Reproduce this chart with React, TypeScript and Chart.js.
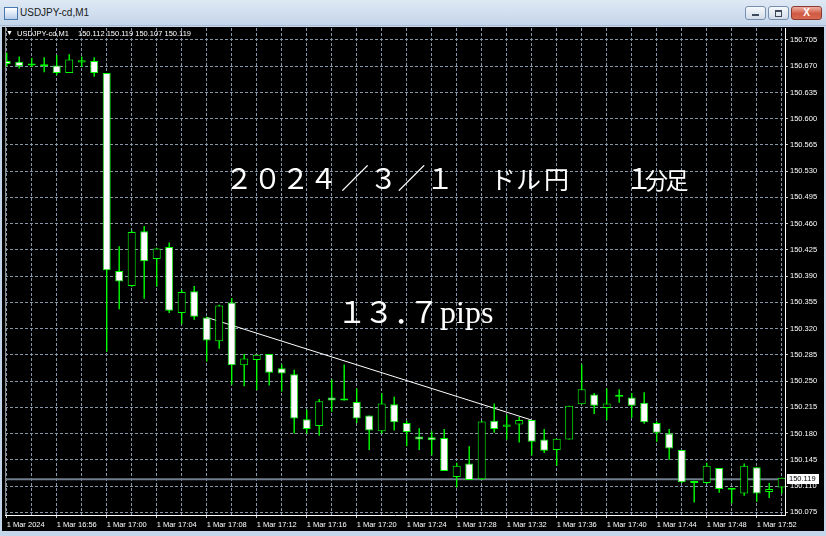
import React, { useEffect, useRef } from 'react';
import { Chart, registerables } from 'chart.js';

Chart.register(...registerables);

// ---------------- data ----------------
const windowTitle = 'USDJPY-cd,M1';

// one-minute bars, 1 Mar 2024 16:52 .. 17:54
const opens = [
  150.677, 150.676, 150.671, 150.670, 150.671, 150.661, 150.675, 150.677, 150.661, 150.397,
  150.377, 150.450, 150.413, 150.429, 150.341, 150.370, 150.335, 150.303, 150.355, 150.271,
  150.278, 150.286, 150.267, 150.259, 150.199, 150.190, 150.228, 150.224, 150.222, 150.204,
  150.183, 150.219, 150.194, 150.176, 150.175, 150.174, 150.122, 150.140, 150.119, 150.197,
  150.189, 150.192, 150.198, 150.172, 150.158, 150.172, 150.219, 150.232, 150.214, 150.229,
  150.228, 150.221, 150.194, 150.180, 150.158, 150.114, 150.114, 150.134, 150.105, 150.100,
  150.135, 150.102, 150.108,
];
const highs = [
  150.688, 150.683, 150.681, 150.682, 150.685, 150.686, 150.683, 150.682, 150.661, 150.430,
  150.451, 150.457, 150.428, 150.435, 150.372, 150.377, 150.336, 150.352, 150.361, 150.286,
  150.285, 150.286, 150.272, 150.265, 150.212, 150.226, 150.252, 150.272, 150.240, 150.204,
  150.234, 150.229, 150.197, 150.187, 150.183, 150.186, 150.141, 150.163, 150.197, 150.220,
  150.205, 150.202, 150.198, 150.186, 150.173, 150.217, 150.272, 150.234, 150.240, 150.239,
  150.234, 150.235, 150.196, 150.186, 150.158, 150.117, 150.141, 150.134, 150.106, 150.140,
  150.135, 150.114, 150.121,
];
const lows = [
  150.670, 150.667, 150.669, 150.662, 150.658, 150.661, 150.669, 150.656, 150.289, 150.346,
  150.376, 150.360, 150.376, 150.341, 150.326, 150.332, 150.276, 150.293, 150.245, 150.243,
  150.238, 150.244, 150.236, 150.180, 150.180, 150.177, 150.209, 150.224, 150.194, 150.158,
  150.180, 150.184, 150.163, 150.158, 150.151, 150.130, 150.108, 150.118, 150.118, 150.181,
  150.172, 150.168, 150.151, 150.154, 150.137, 150.172, 150.219, 150.206, 150.198, 150.221,
  150.201, 150.193, 150.169, 150.145, 150.114, 150.088, 150.113, 150.101, 150.087, 150.097,
  150.089, 150.094, 150.100,
];
const closes = [
  150.673, 150.670, 150.671, 150.670, 150.661, 150.679, 150.678, 150.661, 150.398, 150.383,
  150.449, 150.410, 150.427, 150.344, 150.369, 150.336, 150.304, 150.351, 150.271, 150.280,
  150.285, 150.261, 150.260, 150.200, 150.186, 150.223, 150.224, 150.224, 150.200, 150.184,
  150.220, 150.195, 150.182, 150.172, 150.171, 150.130, 150.137, 150.118, 150.196, 150.186,
  150.192, 150.198, 150.169, 150.157, 150.173, 150.217, 150.239, 150.217, 150.220, 150.229,
  150.217, 150.195, 150.181, 150.160, 150.115, 150.114, 150.137, 150.106, 150.105, 150.137,
  150.100, 150.106, 150.121,
];

// a label every 4 bars (bar 0, 4, 8, ...)
const xTickLabels = [
  '1 Mar 2024', '1 Mar 16:56', '1 Mar 17:00', '1 Mar 17:04', '1 Mar 17:08', '1 Mar 17:12',
  '1 Mar 17:16', '1 Mar 17:20', '1 Mar 17:24', '1 Mar 17:28', '1 Mar 17:32', '1 Mar 17:36',
  '1 Mar 17:40', '1 Mar 17:44', '1 Mar 17:48', '1 Mar 17:52',
];
const yTickValues = [
  150.075, 150.110, 150.145, 150.180, 150.215, 150.250, 150.285, 150.320, 150.355, 150.390,
  150.425, 150.460, 150.495, 150.530, 150.565, 150.600, 150.635, 150.670, 150.705,
];

const lastQuote = [150.112, 150.119, 150.107, 150.119]; // O H L C
const bidPrice = 150.119;
const trendIndex = [16, 42];
const trendValues = [150.335, 150.198];

const titleText = '２０２４／３／１　ドル円　１分足';
const pipsText = '１３．７pips';

// ---------------- layout ----------------
const X_MIN = -0.136;
const X_MAX = 62.264;
const Y_MIN = 150.0714;
const Y_MAX = 150.721;
const OX = 2; // canvas offset in page
const OY = 27;
const CW = 822;
const CH = 504;

// glyph centres (page px) and sizes for the big annotation (spaces skipped)
const titleCenters = [239, 267.5, 295.5, 323.5, 355, 383.5, 411.5, 440, 503, 528.5, 556.5, 639, 656.5, 677];
const titleSizes = [28, 28, 28, 28, 28, 28, 28, 28, 25, 25, 25, 28, 23, 23];
const pipsCenters = [352, 379, 409, 424];

const LIME = '#00ff00';
const GRID = '#8796a8';
const TICKFONT = '"Liberation Sans", "DejaVu Sans", Arial, sans-serif';
const TICKSIZE = 7.5;

const overlay = {
  id: 'overlay',
  afterDraw(chart: any) {
    const ctx = chart.ctx as CanvasRenderingContext2D;
    const area = chart.chartArea;
    const yScale = chart.scales.y;
    ctx.save();

    // left edge of plot
    ctx.strokeStyle = '#8c8c8c';
    ctx.lineWidth = 1;
    ctx.beginPath();
    ctx.moveTo(Math.round(area.left) + 0.5, 0);
    ctx.lineTo(Math.round(area.left) + 0.5, area.bottom);
    ctx.stroke();

    // info line
    ctx.fillStyle = '#ffffff';
    ctx.textBaseline = 'middle';
    ctx.textAlign = 'left';
    ctx.font = `7px ${TICKFONT}`;
    const iy = 33.5 - OY;
    ctx.fillText('▼', 6 - OX, iy);
    ctx.font = `${TICKSIZE}px ${TICKFONT}`;
    ctx.fillText(windowTitle, 17 - OX, iy);
    ctx.fillText(lastQuote.map((v) => v.toFixed(3)).join(' '), 78 - OX, iy);

    // big title
    const glyphs = Array.from(titleText).filter((c) => c !== '　');
    ctx.textAlign = 'center';
    ctx.textBaseline = 'alphabetic';
    glyphs.forEach((g, i) => {
      ctx.font = `${titleSizes[i]}px "Noto Sans CJK JP", sans-serif`;
      ctx.fillText(g, titleCenters[i] - OX, 188.5 - OY);
    });

    // pips text
    const pg = Array.from(pipsText);
    ctx.font = '30px "Noto Sans CJK JP", sans-serif';
    for (let i = 0; i < 4; i++) {
      ctx.fillText(pg[i], pipsCenters[i] - OX, 323 - OY);
    }
    ctx.textAlign = 'left';
    ctx.font = '32px "Liberation Serif", "DejaVu Serif", serif';
    ctx.fillText(pg.slice(4).join(''), 440 - OX, 323 - OY);

    // bid price label
    const by = yScale.getPixelForValue(bidPrice);
    ctx.fillStyle = '#ffffff';
    ctx.fillRect(787 - OX, Math.round(by) - 5, 32, 10);
    ctx.fillStyle = '#000000';
    ctx.font = `${TICKSIZE}px ${TICKFONT}`;
    ctx.textBaseline = 'middle';
    ctx.fillText(bidPrice.toFixed(3), 789 - OX, by);

    ctx.restore();
  },
};

export default function App() {
  const canvasRef = useRef<HTMLCanvasElement | null>(null);

  useEffect(() => {
    document.body.style.margin = '0';
    const canvas = canvasRef.current;
    if (!canvas) return;

    const bodyColors = opens.map((o, i) =>
      closes[i] < o ? '#ffffff' : closes[i] > o ? '#000000' : LIME
    );

    const config: any = {
      type: 'bar',
      data: {
        datasets: [
          {
            type: 'bar',
            label: 'body',
            data: opens.map((o, i) => ({ x: i, y: [o, closes[i]] })),
            backgroundColor: bodyColors,
            borderColor: LIME,
            borderWidth: 1,
            borderSkipped: false,
            barThickness: 8,
            minBarLength: 2,
            grouped: false,
            inflateAmount: 0,
          },
          {
            type: 'bar',
            label: 'wick',
            data: highs.map((h, i) => ({ x: i, y: [lows[i], h] })),
            backgroundColor: LIME,
            borderWidth: 0,
            barThickness: 1.4,
            grouped: false,
            inflateAmount: 0,
          },
          {
            type: 'line',
            label: 'trend',
            data: trendIndex.map((x, i) => ({ x, y: trendValues[i] })),
            borderColor: '#ffffff',
            borderWidth: 1,
            pointRadius: 0,
            tension: 0,
          },
          {
            type: 'line',
            label: 'bid',
            data: [
              { x: X_MIN, y: bidPrice },
              { x: X_MAX, y: bidPrice },
            ],
            borderColor: '#6f7d8c',
            borderWidth: 2,
            pointRadius: 0,
          },
        ],
      },
      options: {
        responsive: false,
        animation: false,
        events: [],
        layout: { padding: { left: 3, top: 1, right: 0, bottom: 0 }, autoPadding: false },
        plugins: { legend: { display: false }, tooltip: { enabled: false } },
        scales: {
          x: {
            type: 'linear',
            min: X_MIN,
            max: X_MAX,
            offset: false,
            grid: {
              offset: false,
              color: GRID,
              lineWidth: 1,
              drawTicks: true,
              tickLength: 3,
              tickColor: (c: any) => (c.tick && c.tick.value % 4 === 0 ? '#c8c8c8' : 'rgba(0,0,0,0)'),
            },
            border: { display: true, color: '#ffffff', width: 1, dash: [3, 2] },
            ticks: {
              autoSkip: false,
              maxRotation: 0,
              minRotation: 0,
              align: 'start',
              padding: 2,
              color: '#ffffff',
              font: { family: TICKFONT, size: TICKSIZE },
              callback: (v: any) => (Number(v) % 4 === 0 ? xTickLabels[Number(v) / 4] ?? '' : ''),
            },
            afterBuildTicks: (s: any) => {
              const t: any[] = [];
              for (let i = 0; i < opens.length; i += 2) t.push({ value: i });
              s.ticks = t;
            },
            afterFit: (s: any) => {
              s.height = 16;
              s.paddingLeft = 0;
              s.paddingRight = 0;
            },
          },
          y: {
            type: 'linear',
            position: 'right',
            min: Y_MIN,
            max: Y_MAX,
            beginAtZero: false,
            grid: {
              color: GRID,
              lineWidth: 1,
              drawTicks: true,
              tickLength: 3,
              tickColor: '#c8c8c8',
            },
            border: { display: true, color: '#ffffff', width: 1, dash: [3, 2] },
            ticks: {
              autoSkip: false,
              padding: 2,
              color: '#ffffff',
              font: { family: TICKFONT, size: TICKSIZE },
              callback: (v: any) => Number(v).toFixed(3),
            },
            afterBuildTicks: (s: any) => {
              s.ticks = yTickValues.map((v) => ({ value: v }));
            },
            afterFit: (s: any) => {
              s.width = 39;
              s.paddingTop = 0;
              s.paddingBottom = 0;
            },
          },
        },
      },
      plugins: [overlay],
    };

    const chart = new Chart(canvas, config);
    return () => chart.destroy();
  }, []);

  const btn: React.CSSProperties = {
    position: 'absolute',
    top: 6,
    height: 14,
    border: '1px solid #7890ad',
    borderRadius: 3,
    background: 'linear-gradient(#f6f9fc, #d2dce9)',
    boxSizing: 'border-box',
  };

  return (
    <div
      style={{
        position: 'fixed',
        left: 0,
        top: 0,
        width: 826,
        height: 536,
        overflow: 'hidden',
        background: '#c6d6ea',
      }}
    >
      <div
        style={{
          position: 'absolute',
          left: 0,
          top: 0,
          width: 826,
          height: 26,
          background: 'linear-gradient(#dfe9f5, #c4d5e9)',
          borderBottom: '1px solid #a9bcd4',
          boxSizing: 'border-box',
        }}
      />
      <div
        style={{
          position: 'absolute',
          left: 4,
          top: 7,
          width: 12,
          height: 11,
          border: '1px solid #4a78b0',
          background: 'linear-gradient(#ffffff, #b7cdea)',
        }}
      />
      <div
        style={{
          position: 'absolute',
          left: 20,
          top: 7,
          fontFamily: '"Liberation Sans", Arial, sans-serif',
          fontSize: 10,
          lineHeight: '12px',
          color: '#1a1a1a',
        }}
      >
        {windowTitle}
      </div>
      <div style={{ ...btn, left: 745, width: 21 }}>
        <div style={{ position: 'absolute', left: 6, top: 7, width: 7, height: 2, background: '#3c4a5c' }} />
      </div>
      <div style={{ ...btn, left: 768, width: 21 }}>
        <div
          style={{
            position: 'absolute',
            left: 6,
            top: 3,
            width: 5,
            height: 4,
            border: '1px solid #3c4a5c',
            borderTopWidth: 2,
          }}
        />
      </div>
      <div
        style={{
          ...btn,
          left: 791,
          width: 31,
          border: '1px solid #8a3a30',
          background: 'linear-gradient(#eeb2a4, #cf5a43 55%, #d8694f)',
          color: '#ffffff',
          fontFamily: '"Liberation Sans", Arial, sans-serif',
          fontWeight: 'bold',
          fontSize: 10,
          lineHeight: '12px',
          textAlign: 'center',
        }}
      >
        X
      </div>
      <div
        style={{
          position: 'absolute',
          left: OX,
          top: OY,
          width: CW,
          height: CH,
          background: '#000000',
        }}
      >
        <canvas ref={canvasRef} width={CW} height={CH} style={{ display: 'block', width: CW, height: CH }} />
      </div>
    </div>
  );
}
